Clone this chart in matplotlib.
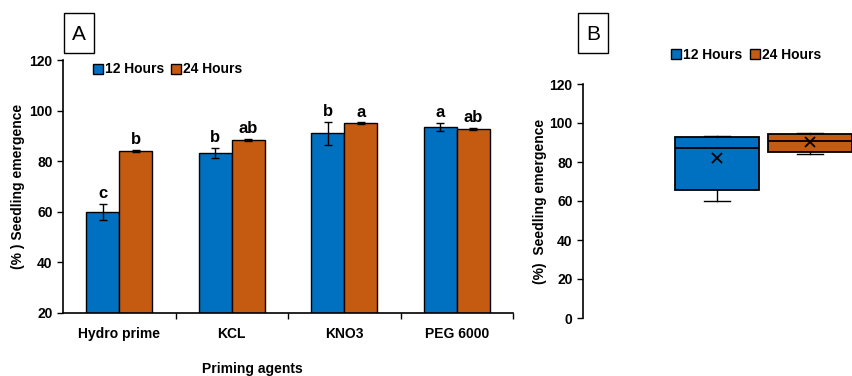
import numpy as np
import matplotlib.pyplot as plt
from matplotlib.lines import Line2D
from matplotlib.patches import Rectangle

plt.rcParams['font.family'] = ['Liberation Sans', 'DejaVu Sans']
plt.rcParams['font.weight'] = 'bold'

# data
agents = ['Hydro prime', 'KCL', 'KNO3', 'PEG 6000']
h12 = [60.0, 83.3, 91.1, 93.5]
h24 = [84.0, 88.4, 95.0, 92.7]
err12 = [3.2, 2.0, 4.5, 1.5]
err24 = [0.4, 0.3, 0.3, 0.4]
letters12 = ['c', 'b', 'b', 'a']
letters24 = ['b', 'ab', 'a', 'ab']
series = ['12 Hours', '24 Hours']

blue = '#0070C0'
orange = '#C55A11'

fig = plt.figure(figsize=(8.52, 3.76), dpi=100)

# ---- panel A: bar chart ----
axA = fig.add_axes([63/852, 1-313/376, 450/852, 253/376])
x = np.arange(len(agents))
w = 0.295
axA.bar(x - w/2, h12, w, color=blue, edgecolor='black', linewidth=1.0,
        yerr=err12, capsize=3, error_kw=dict(elinewidth=1, capthick=1), label=series[0])
axA.bar(x + w/2, h24, w, color=orange, edgecolor='black', linewidth=1.0,
        yerr=err24, capsize=3, error_kw=dict(elinewidth=1, capthick=1), label=series[1])

for i in range(len(agents)):
    axA.annotate(letters12[i], (x[i] - w/2, h12[i] + err12[i]), textcoords='offset points',
                 xytext=(0, 2), ha='center', va='bottom', fontsize=12, fontweight='bold')
    axA.annotate(letters24[i], (x[i] + w/2, h24[i] + err24[i]), textcoords='offset points',
                 xytext=(0, 2), ha='center', va='bottom', fontsize=12, fontweight='bold')

axA.set_xlim(-0.5, 3.5)
axA.set_ylim(20, 120)
axA.set_yticks(range(20, 121, 20))
axA.set_xticks(x)
axA.set_xticklabels(agents)
axA.set_xticks(np.arange(0.5, 4, 1), minor=True)
axA.tick_params(axis='x', which='major', length=0, pad=10, labelsize=10)
axA.tick_params(axis='x', which='minor', length=4, width=1)
axA.tick_params(axis='y', length=4, width=1, labelsize=10)
for s in ['top', 'right']:
    axA.spines[s].set_visible(False)
for s in ['left', 'bottom']:
    axA.spines[s].set_linewidth(1.2)
axA.set_ylabel('(% ) Seedling emergence', fontsize=10, fontweight='bold', labelpad=3)
fig.text(252/852, 1-362/376, 'Priming agents', ha='center', va='top',
         fontsize=10, fontweight='bold')

handles = [Line2D([], [], marker='s', linestyle='none', markersize=7,
                  markerfacecolor=c, markeredgecolor='black', markeredgewidth=1)
           for c in (blue, orange)]
axA.legend(handles, series, loc='upper left', bbox_to_anchor=(0.04, 1.04), ncol=2,
           frameon=False, handlelength=0.6, handletextpad=0.2, columnspacing=0.6,
           prop=dict(size=10, weight='bold'))

# ---- panel B: box plot ----
axB = fig.add_axes([583/852, 1-318/376, 269/852, 234/376])
stats = []
for name, vals in zip(series, (h12, h24)):
    v = np.array(vals)
    q1, med, q3 = np.percentile(v, [25, 50, 75], method='weibull')
    stats.append(dict(label=name, med=med, q1=q1, q3=q3, whislo=v.min(),
                      whishi=v.max(), mean=v.mean(), fliers=[]))
bp = axB.bxp(stats, positions=[1, 2], widths=0.9, patch_artist=True, showmeans=True,
             meanprops=dict(marker='x', markeredgecolor='black', markersize=7, markeredgewidth=1.3),
             medianprops=dict(color='black', linewidth=1.3),
             whiskerprops=dict(color='black', linewidth=1),
             capprops=dict(color='black', linewidth=1),
             boxprops=dict(edgecolor='black', linewidth=1.3))
for patch, c in zip(bp['boxes'], (blue, orange)):
    patch.set_facecolor(c)
for cap in bp['caps']:
    xd = cap.get_xdata()
    mid = (xd[0] + xd[1]) / 2
    cap.set_xdata([mid - 0.14, mid + 0.14])

axB.set_xlim(-0.441, 2.452)
axB.set_ylim(0, 120)
axB.set_yticks(range(0, 121, 20))
axB.set_xticks([])
axB.tick_params(axis='y', length=4, width=1, labelsize=10)
for s in ['top', 'right', 'bottom']:
    axB.spines[s].set_visible(False)
axB.spines['left'].set_linewidth(1.2)
axB.set_ylabel('(%)  Seedling emergence', fontsize=10, fontweight='bold', labelpad=2)
axB.legend(handles, series, loc='lower left', bbox_to_anchor=(0.31, 1.07), ncol=2,
           frameon=False, handlelength=0.6, handletextpad=0.2, columnspacing=0.6,
           borderaxespad=0, prop=dict(size=10, weight='bold'))

# panel letters in boxes
for lab, px0 in (('A', 64), ('B', 578)):
    fig.patches.append(Rectangle((px0/852, 1-53/376), 30/852, 40/376, transform=fig.transFigure,
                                 facecolor='white', edgecolor='black', linewidth=1))
    fig.text((px0+15)/852, 1-34/376, lab, ha='center', va='center', fontsize=15,
             fontweight='normal')

fig.savefig('out.png', dpi=100)
